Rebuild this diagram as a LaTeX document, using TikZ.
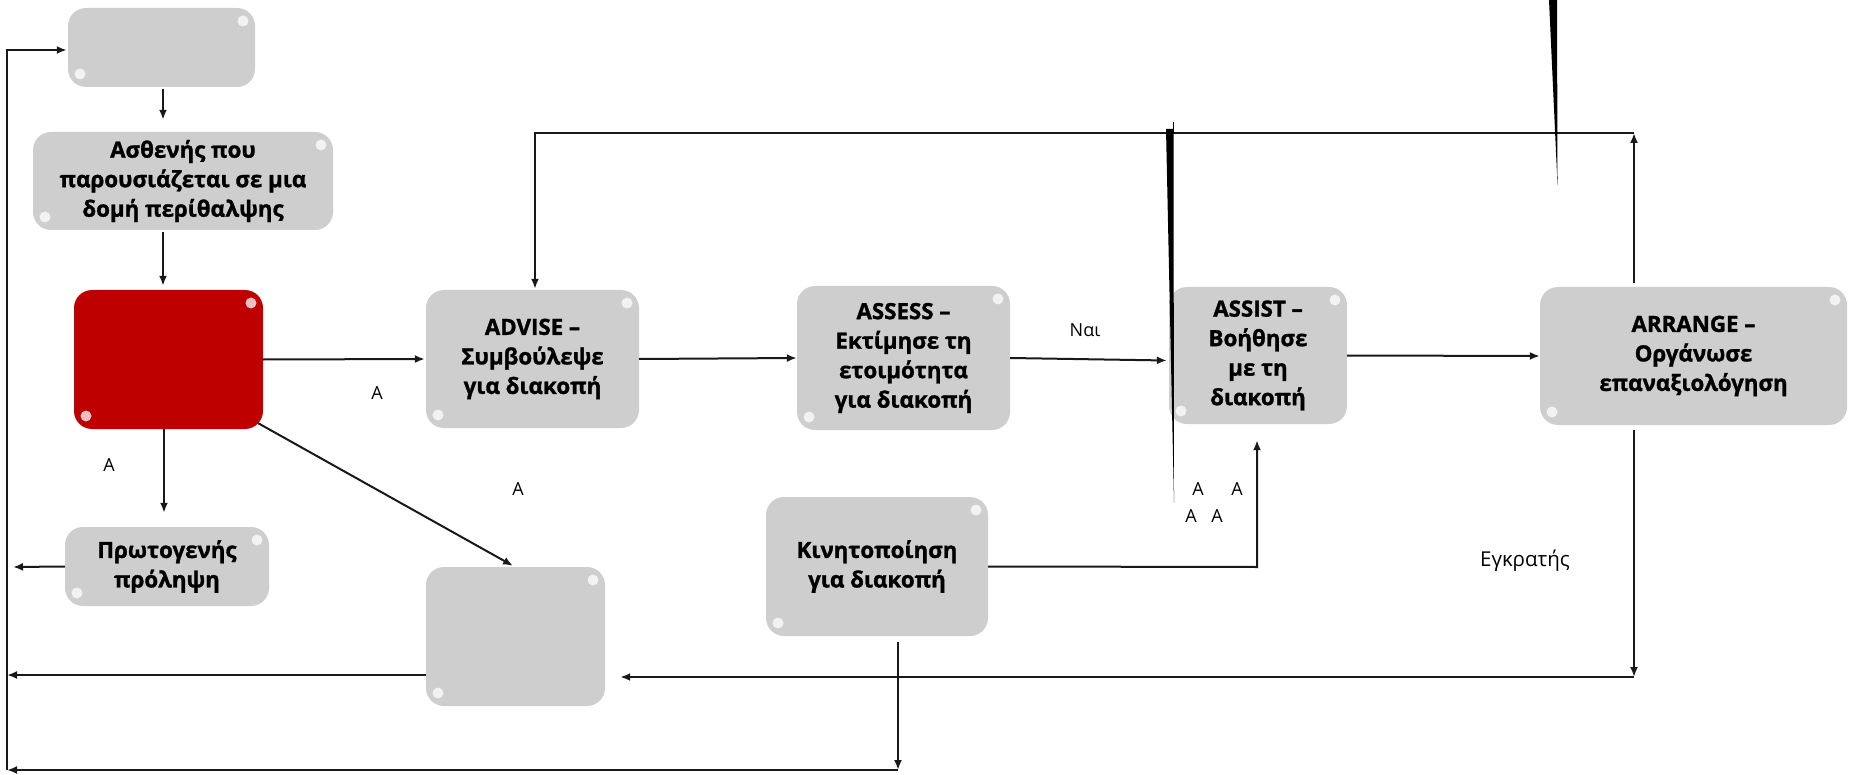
\documentclass[tikz,border=0pt]{standalone}
\usepackage{fontspec}
\setmainfont{Open Sans}
\usetikzlibrary{arrows.meta,calc}
\definecolor{boxgray}{RGB}{207,206,207}
\definecolor{boxred}{RGB}{190,0,0}
\definecolor{linec}{RGB}{25,25,25}
\tikzset{
  gloss/.style={path picture={
      \fill[white,opacity=.75] ([shift={(-12pt,-13pt)}]path picture bounding box.north east) circle (5.5pt);
      \fill[white,opacity=.75] ([shift={(12pt,13pt)}]path picture bounding box.south west) circle (5.5pt);}},
  box/.style={draw=none, fill=boxgray, rounded corners=18pt, inner sep=0pt, align=center,
      font=\fontsize{22.3}{29.5}\selectfont\bfseries\addfontfeature{FakeBold=1.3}, text=black, gloss},
  redbox/.style={box, fill=boxred},
  arr/.style={draw=linec, line width=2pt, -{Latex[length=10pt,width=8pt]}},
  lbl/.style={font=\fontsize{18}{22}\selectfont, text=black, inner sep=0pt},
}
\begin{document}
\begin{tikzpicture}[x=1pt,y=-1pt]
\useasboundingbox (0,0) rectangle (1854,775);

% boxes
\node[box, minimum width=187pt, minimum height=79pt] (top) at (161.5,47.5) {};
\node[box, minimum width=300pt, minimum height=98pt] (pat) at (183,181) {Ασθενής που\\παρουσιάζεται σε μια\\δομή περίθαλψης};
\node[redbox, minimum width=189pt, minimum height=139pt] (red) at (168.5,359.5) {};
\node[box, minimum width=204pt, minimum height=79pt] (prim) at (167,566.5) {Πρωτογενής\\πρόληψη};
\node[box, minimum width=213pt, minimum height=138pt] (advise) at (532.5,359) {ADVISE –\\Συμβούλεψε\\για διακοπή};
\node[box, minimum width=213pt, minimum height=144pt] (assess) at (903.5,358) {ASSESS –\\Εκτίμησε τη\\ετοιμότητα\\για διακοπή};
\node[box, minimum width=178pt, minimum height=137pt] (assist) at (1258,355.5) {ASSIST –\\Βοήθησε\\με τη\\διακοπή};
\node[box, minimum width=307pt, minimum height=138pt] (arrange) at (1693.5,356) {ARRANGE –\\Οργάνωσε\\επαναξιολόγηση};
\node[box, minimum width=179pt, minimum height=139pt] (blank) at (515.5,636.5) {};
\node[box, minimum width=222pt, minimum height=139pt] (mob) at (877,566.5) {Κινητοποίηση\\για διακοπή};

% helper coordinates
\coordinate (primout) at (13,567);
\coordinate (tr) at (1634,133);
\coordinate (tl) at (535,133);
\coordinate (br) at (1634,677);
\coordinate (bl) at (7,675);
\coordinate (bm) at (898,770);
\coordinate (bll) at (7,770);
\coordinate (tlc) at (7,50);
\coordinate (mobr) at (1257,567);

% connectors
\draw[arr, shorten <=2pt, shorten >=12pt] ([xshift=1.5pt]top.south) -- ([xshift=1.5pt]top.south |- pat.north);
\draw[arr, shorten <=2pt, shorten >=4pt] ([xshift=-5.5pt]red.north |- pat.south) -- ([xshift=-5.5pt]red.north);
\draw[arr, shorten >=14pt] ([xshift=-4.5pt]red.south) -- ([xshift=-4.5pt]red.south |- prim.north);
\draw[arr] (prim.west) -- (primout);
\draw[arr, shorten >=1pt] (red.east) -- (advise.west);
\draw[arr] ($(red.south east)+(-5,-6)$) -- ($(blank.north)+(-2.5,-1)$);
\draw[arr] (advise.east) -- (assess.west);
\draw[arr] (assess.east) -- ($(assist.west)+(-2,5)$);
\draw[arr] (assist.east) -- (arrange.west);
\draw[arr, shorten <=4pt] (tr |- arrange.north) -- (tr);
\draw[arr, shorten >=1pt] (tr) -- (tl) -- (tl |- advise.north);
\draw[arr, shorten <=5pt] (br |- arrange.south) -- (br);
\draw[arr, shorten >=15pt] (br) -- (br -| blank.east);
\draw[arr] (blank.west |- bl) -- (bl);
\draw[arr, shorten <=6pt] (mob.south -| bm) -- (bm);
\draw[arr] (bm) -- (bll);
\draw[arr, shorten >=1pt] (bll) -- (tlc) -- (top.west |- tlc);
\draw[arr, shorten >=16pt] (mob.east) -- (mobr) -- (mobr |- assist.south);

% wedges
\fill[black] (1166,129) -- (1173.5,129) -- (1174,503) -- cycle;
\draw[black, line width=0.8pt] (1173,122) -- (1173,133);
\fill[black] (1549,0) -- (1557,0) -- (1557.5,185) -- cycle;

% labels
\node[lbl] (la1) at (109,465) {Α};
\node[lbl] (la2) at (377,393) {Α};
\node[lbl] (la3) at (518,489) {Α};
\node[lbl] (nai) at (1085,330) {Ναι};
\node[lbl] (la4) at (1198,489) {Α};
\node[lbl] (la5) at (1237,489) {Α};
\node[lbl] (la6) at (1191,516) {Α};
\node[lbl] (la7) at (1217,516) {Α};
\node[lbl, font=\fontsize{20.5}{24}\selectfont] (egk) at (1525,561) {Εγκρατής};
\end{tikzpicture}
\end{document}
